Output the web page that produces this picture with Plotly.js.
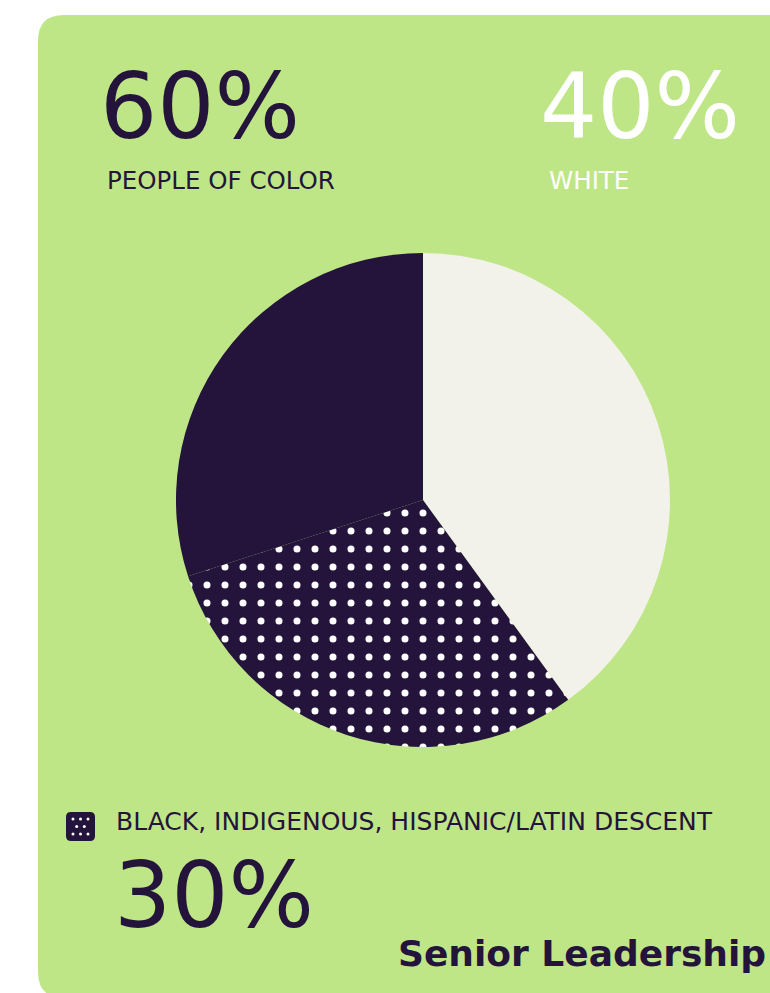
<!DOCTYPE html>
<html>
<head>
<meta charset="utf-8">
<script src="https://cdn.plot.ly/plotly-3.0.1.min.js"></script>
<style>html,body{margin:0;padding:0;background:#fff;}#chart{width:770px;height:993px;}</style>
</head>
<body>
<div id="chart"></div>
<script>
// ---- data ----
const labels = ["White", "Black, Indigenous, Hispanic/Latin Descent", "Other People of Color"];
const values = [40, 30, 30];
const sliceColors = ["#F3F2EA", "#24133A", "#24133A"];
const slicePatterns = ["", ".", ""];
const groupValues = {poc: "60%", white: "40%", bihl: "30%"};
const groupLabels = {poc: "PEOPLE OF COLOR", white: "WHITE", bihl: "BLACK, INDIGENOUS, HISPANIC/LATIN DESCENT"};
const chartTitle = "Senior Leadership";

// ---- layout helpers (pixel -> paper) ----
const W = 770, H = 993;
const px = x => x / W;
const py = y => 1 - y / H;
const DARK = "#24133A", GREEN = "#BEE687", FONT = "'DejaVu Sans', 'Open Sans', sans-serif";

const cx = 423, cy = 500, r = 247;

const trace = {
  type: "pie",
  labels: labels,
  values: values,
  sort: false,
  direction: "clockwise",
  rotation: 0,
  textinfo: "none",
  hoverinfo: "label+percent",
  showlegend: false,
  domain: {x: [px(cx - r), px(cx + r)], y: [py(cy + r), py(cy - r)]},
  marker: {
    colors: sliceColors,
    line: {width: 0},
    pattern: {shape: slicePatterns, fgcolor: "#FFFFFF", fgopacity: 1, bgcolor: DARK, size: 18, solidity: 0.12, fillmode: "overlay"}
  }
};

// rounded card
const x0 = 38, y0 = 15, x1 = 800, y1 = 998, rr = 26;
const cardPath = `M ${px(x0+rr)},${py(y0)} L ${px(x1)},${py(y0)} L ${px(x1)},${py(y1)} L ${px(x0+rr)},${py(y1)} Q ${px(x0)},${py(y1)} ${px(x0)},${py(y1-rr)} L ${px(x0)},${py(y0+rr)} Q ${px(x0)},${py(y0)} ${px(x0+rr)},${py(y0)} Z`;

const shapes = [
  {type: "path", xref: "paper", yref: "paper", path: cardPath, fillcolor: GREEN, line: {width: 0}, layer: "below"},
];
// legend icon: rounded square with dots
const ix0 = 66, iy0 = 812, ix1 = 95, iy1 = 841, ir = 5;
shapes.push({type: "path", xref: "paper", yref: "paper",
  path: `M ${px(ix0+ir)},${py(iy0)} L ${px(ix1-ir)},${py(iy0)} Q ${px(ix1)},${py(iy0)} ${px(ix1)},${py(iy0+ir)} L ${px(ix1)},${py(iy1-ir)} Q ${px(ix1)},${py(iy1)} ${px(ix1-ir)},${py(iy1)} L ${px(ix0+ir)},${py(iy1)} Q ${px(ix0)},${py(iy1)} ${px(ix0)},${py(iy1-ir)} L ${px(ix0)},${py(iy0+ir)} Q ${px(ix0)},${py(iy0)} ${px(ix0+ir)},${py(iy0)} Z`,
  fillcolor: DARK, line: {width: 0}});
const dots = [[73,819],[80.5,819],[88,819],[76.7,826.5],[84.3,826.5],[73,834],[80.5,834],[88,834]];
dots.forEach(([dx, dy]) => shapes.push({type: "circle", xref: "paper", yref: "paper",
  x0: px(dx-1.5), x1: px(dx+1.5), y0: py(dy+1.5), y1: py(dy-1.5), fillcolor: "#FFFFFF", line: {width: 0}}));

function ann(text, x, y, size, color, weight, opts) {
  return Object.assign({text: text, xref: "paper", yref: "paper", x: px(x), y: py(y),
    xanchor: "left", yanchor: "middle", showarrow: false,
    font: {family: FONT, size: size, color: color, weight: weight}}, opts || {});
}

const annotations = [
  ann(groupValues.poc, 98, 106, 90, DARK, 400),
  ann(groupLabels.poc, 105, 180, 24.5, DARK, 400),
  ann(groupValues.white, 538, 106, 90, "#FFFFFF", 400),
  ann(groupLabels.white, 547, 180, 24.5, "#FFFFFF", 400),
  ann(groupLabels.bihl, 114, 821, 25, DARK, 400),
  ann(groupValues.bihl, 112, 895, 90, DARK, 400),
  ann(chartTitle, 768, 953, 36, DARK, 700, {xanchor: "right"})
];

const layout = {
  width: W, height: H,
  margin: {l: 0, r: 0, t: 0, b: 0},
  paper_bgcolor: "#FFFFFF",
  plot_bgcolor: "rgba(0,0,0,0)",
  shapes: shapes,
  annotations: annotations,
  showlegend: false
};

Plotly.newPlot("chart", [trace], layout, {displayModeBar: false, staticPlot: true});
</script>
</body>
</html>
